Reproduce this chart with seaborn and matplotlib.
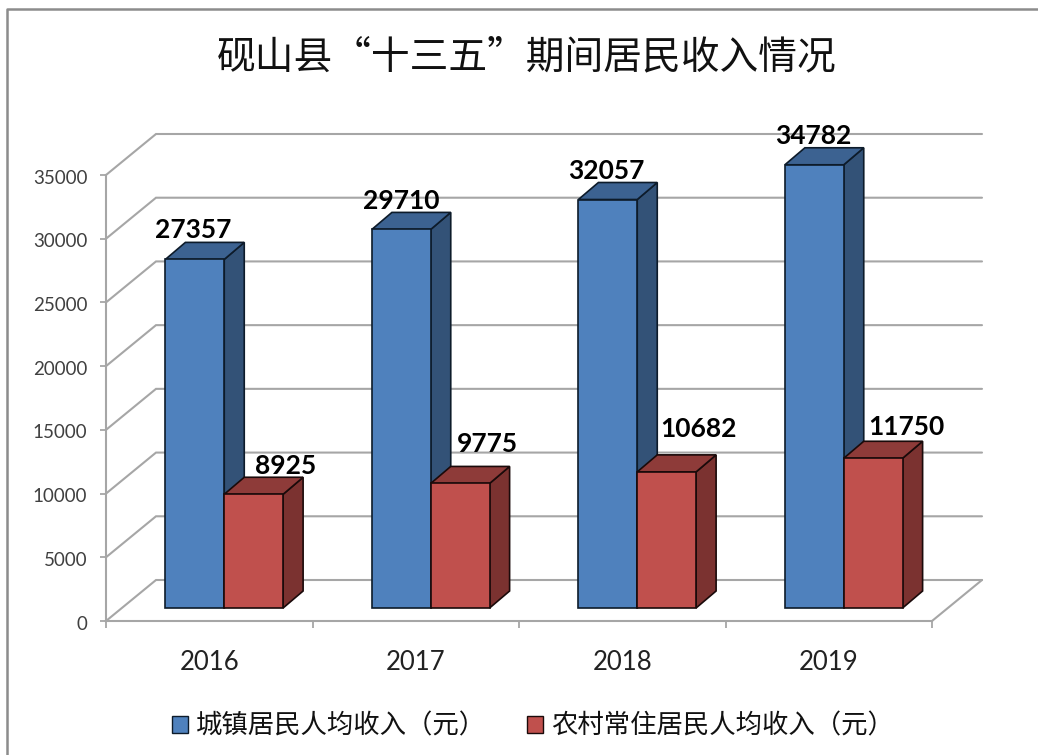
import matplotlib
matplotlib.use("Agg")
import matplotlib.pyplot as plt
import pandas as pd
import seaborn as sns
from matplotlib.lines import Line2D
from matplotlib.patches import Polygon
from matplotlib.transforms import Affine2D

years = ["2016", "2017", "2018", "2019"]
urban = [27357, 29710, 32057, 34782]
rural = [8925, 9775, 10682, 11750]
urban_name = "城镇居民人均收入（元）"
rural_name = "农村常住居民人均收入（元）"
title = "砚山县“十三五”期间居民收入情况"
y_ticks = [0, 5000, 10000, 15000, 20000, 25000, 30000, 35000]

sns.set_theme(style="white")
CJK = ["Noto Sans CJK SC", "DejaVu Sans"]
plt.rcParams["font.family"] = ["Lato", "Noto Sans CJK SC", "DejaVu Sans"]

W, H = 1038, 755
AX_L, AX_R, AX_T, AX_B = 106, 932, 175, 621
fig = plt.figure(figsize=(W / 100, H / 100), dpi=100, facecolor="white")
ax = fig.add_axes([AX_L / W, 1 - AX_B / H, (AX_R - AX_L) / W, (AX_B - AX_T) / H])

df = pd.DataFrame({
    "year": years * 2,
    "income": urban + rural,
    "series": [urban_name] * 4 + [rural_name] * 4,
})
front = ["#4F81BD", "#C0504D"]
top = ["#3C6291", "#8E3B39"]
side = ["#335277", "#7B3230"]
edge = ["#0D1B2A", "#1A0A0A"]

sns.barplot(data=df, x="year", y="income", hue="series", palette=front,
            width=0.57, gap=0, saturation=1, errorbar=None, ax=ax, legend=False)

ax.set_xlim(-0.5, 3.5)
ax.set_ylim(0, 35000)
px_x = (AX_R - AX_L) / 4
px_y = (AX_B - AX_T) / 35000
def dxdata(p): return p / px_x
def dydata(p): return p / px_y

GRID = "#A6A6A6"
WALL_X, WALL_Y = dxdata(50), dydata(41)
BAR_X, BAR_Y = dxdata(15), dydata(13)
DEP_X, DEP_Y = dxdata(20), dydata(17)

# back wall, side wall and floor
for v in y_ticks:
    ax.plot([-0.5, -0.5 + WALL_X, 3.5 + WALL_X], [v, v + WALL_Y, v + WALL_Y],
            color=GRID, lw=1.5, clip_on=False, zorder=1, solid_joinstyle="miter")
ax.plot([3.5, 3.5 + WALL_X], [0, WALL_Y], color=GRID, lw=1.5, clip_on=False, zorder=1)

# 3D faces for the bars seaborn drew
n_each = len(years)
for i, patch in enumerate(ax.patches[:2 * n_each]):
    s = i // n_each
    x0 = patch.get_x() + BAR_X
    y0 = patch.get_y() + BAR_Y
    w = patch.get_width()
    h = patch.get_height()
    patch.set_x(x0)
    patch.set_y(y0)
    patch.set_edgecolor(edge[s])
    patch.set_linewidth(1.2)
    patch.set_clip_on(False)
    patch.set_zorder(3.1 + 0.2 * s)
    x1, y1 = x0 + w, y0 + h
    ax.add_patch(Polygon([(x1, y0), (x1 + DEP_X, y0 + DEP_Y), (x1 + DEP_X, y1 + DEP_Y), (x1, y1)],
                         facecolor=side[s], edgecolor=edge[s], lw=1.2, clip_on=False, zorder=3 + 0.2 * s))
    ax.add_patch(Polygon([(x0, y1), (x0 + DEP_X, y1 + DEP_Y), (x1 + DEP_X, y1 + DEP_Y), (x1, y1)],
                         facecolor=top[s], edgecolor=edge[s], lw=1.2, clip_on=False, zorder=3 + 0.2 * s))

# value labels: pixel offsets from the front-top centre of each bar
label_off = [(-1.5, 29), (0, 28), (-2, 29), (-1, 29), (32, 28), (27, 39), (32, 43), (33, 31)]
for patch, val, off in zip(ax.patches[:2 * n_each], urban + rural, label_off):
    ax.annotate(str(val), (patch.get_x() + patch.get_width() / 2, patch.get_y() + patch.get_height()),
                xytext=(off[0] * 0.72, off[1] * 0.72), textcoords="offset points",
                ha="center", va="center", fontsize=19, fontweight="bold",
                color="black", zorder=6, annotation_clip=False)

# axes
for sp in ["top", "right"]:
    ax.spines[sp].set_visible(False)
for sp in ["left", "bottom"]:
    ax.spines[sp].set_color(GRID)
    ax.spines[sp].set_linewidth(1.5)
    ax.spines[sp].set_zorder(2)
ax.set_yticks(y_ticks)
ax.set_xlabel("")
ax.set_ylabel("")
ax.tick_params(axis="y", left=True, length=4.5, width=1.3, color=GRID, labelsize=13.5,
               labelcolor="#404040", pad=9)
ax.set_xticks(range(4), years)
ax.set_xticks([-0.5, 0.5, 1.5, 2.5, 3.5], minor=True)
ax.tick_params(axis="x", which="major", bottom=False, length=0, labelsize=18.5,
               labelcolor="#222222", pad=21)
ax.tick_params(axis="x", which="minor", bottom=True, length=5, width=1.3, color=GRID)
for lbl in ax.get_yticklabels():
    lbl.set_transform(lbl.get_transform() + Affine2D().translate(0, -1.5))

# title
fig.text(526.5 / W, 1 - 57 / H, title, ha="center", va="center", fontsize=27.9,
         family=CJK, color="#111111")

# frame of the screenshot
fig.add_artist(Line2D([7 / W, 7 / W, 1], [0, 1 - 9 / H, 1 - 9 / H], color="#8C8C8C", lw=1.8,
                      transform=fig.transFigure))

# legend
handles = [plt.Rectangle((0, 0), 1, 1, facecolor=front[i], edgecolor=edge[i], lw=1) for i in range(2)]
leg = fig.legend(handles, [urban_name, rural_name], loc="center", bbox_to_anchor=(533 / W, 1 - 726 / H),
                 ncol=2, frameon=False, prop={"family": CJK, "size": 19},
                 handlelength=0.6, handleheight=0.6, handletextpad=0.3, columnspacing=1.55)
for t in leg.get_texts():
    t.set_color("#111111")

fig.savefig("out.png", dpi=100, facecolor="white")
